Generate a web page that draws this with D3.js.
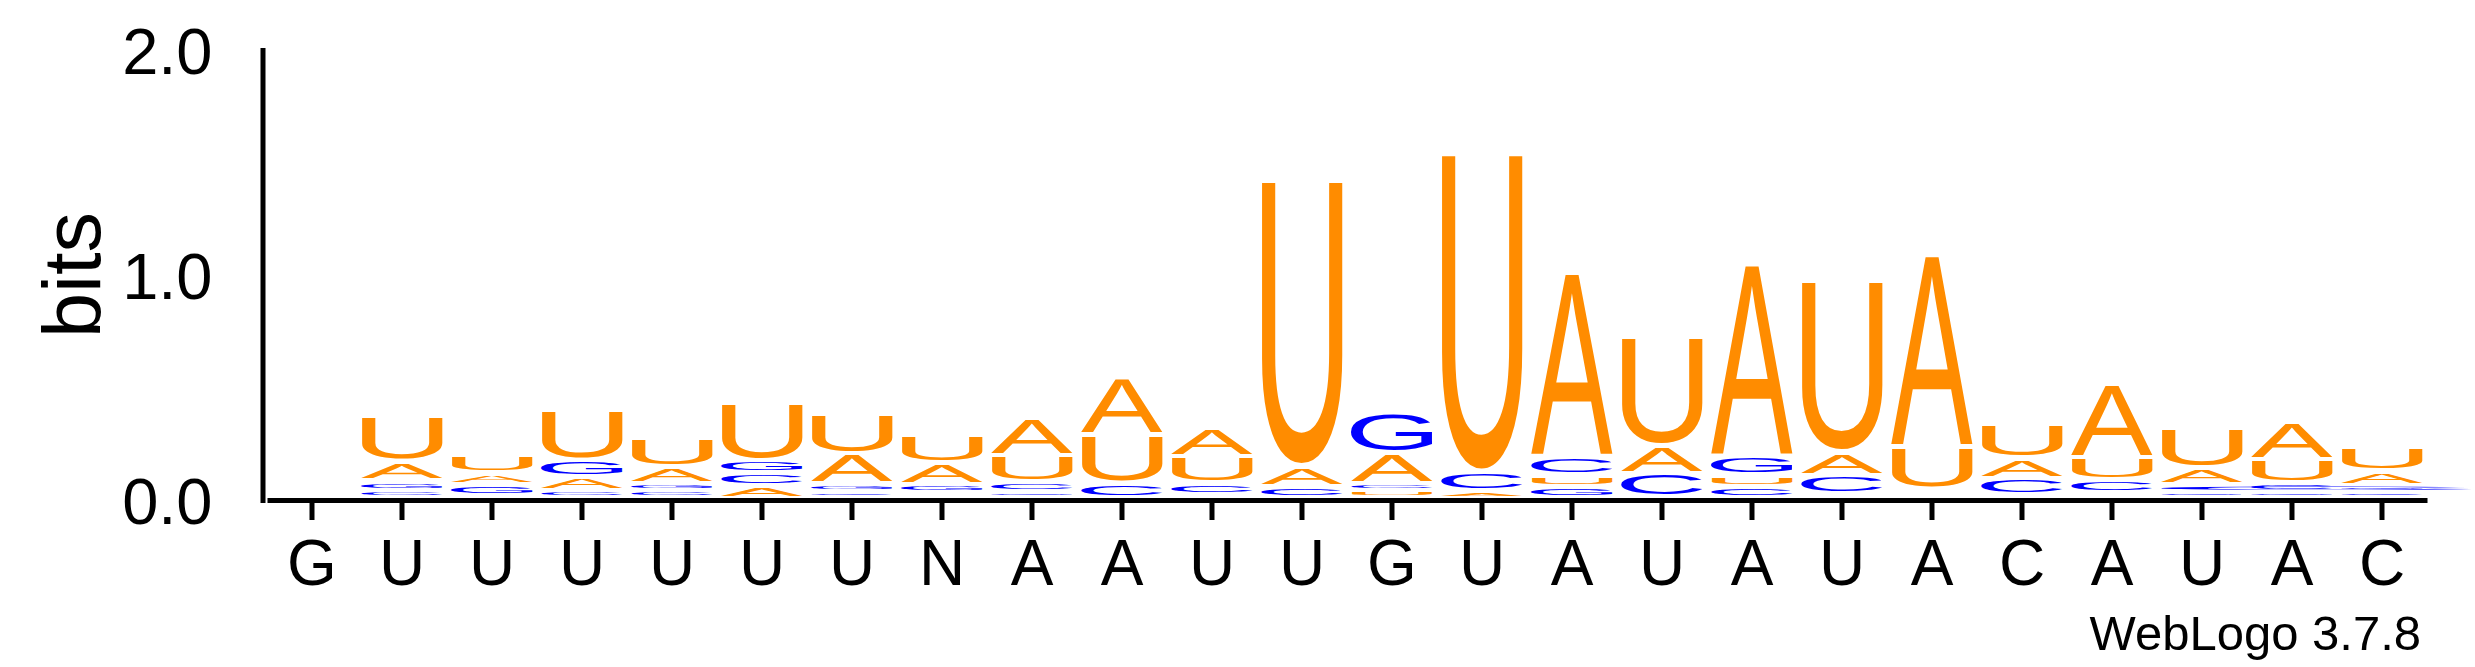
<!DOCTYPE html>
<html><head><meta charset="utf-8">
<script src="https://cdn.jsdelivr.net/npm/d3@7"></script>
<style>html,body{margin:0;padding:0;background:#fff;} svg{display:block;}</style>
</head><body>
<script>
// ---- data ----
const positionLabels = ["G","U","U","U","U","U","U","N","A","A","U","U","G","U","A","U","A","U","A","C","A","U","A","C"];
const bitsA = [0,0.086,0.052,0.059,0.074,0.055,0.133,0.096,0.169,0.253,0.129,0.091,0.133,0.031,0.819,0.122,0.855,0.104,0.855,0.089,0.331,0.071,0.170,0.064];
const bitsC = [0,0.034,0.010,0.034,0.031,0.056,0.030,0.024,0.044,0.062,0.052,0.053,0.034,0.088,0.081,0.107,0.051,0.084,0.020,0.073,0.056,0.037,0.039,0.027];
const bitsG = [0,0.042,0.049,0.076,0.034,0.058,0.034,0.037,0.027,0.002,0.014,0.000,0.182,0.000,0.052,0.004,0.084,0.017,0.019,0.014,0.024,0.025,0.027,0.030];
const bitsU = [0,0.199,0.081,0.225,0.132,0.258,0.175,0.123,0.119,0.218,0.119,1.271,0.031,1.415,0.053,0.483,0.052,0.760,0.190,0.152,0.101,0.180,0.107,0.111];
const majorTicks = [0, 1, 2];
const minorTicks = [0.2,0.4,0.6,0.8,1.2,1.4,1.6,1.8];
const yTitle = "bits";
const footer = "WebLogo 3.7.8";
const letterColors = {A:"#ff8c00", U:"#ff8c00", C:"#0000ff", G:"#0000ff"};

// ---- layout ----
const W = 2475, H = 667;
const FONT = '"Liberation Sans", Arial, Helvetica, sans-serif';
const svg = d3.select("body").append("svg").attr("width", W).attr("height", H);

const y = d3.scaleLinear().domain([0, 2]).range([500, 50]);
const x = d3.scaleBand().domain(d3.range(positionLabels.length))
  .range([267, 2427]).paddingInner(0.09).paddingOuter(0.045);

// glyph metrics
const ctx = document.createElement("canvas").getContext("2d");
const FS = 100;
ctx.font = FS + "px " + FONT;
const metricsCache = {};
function met(ch) {
  if (!metricsCache[ch]) {
    const m = ctx.measureText(ch);
    metricsCache[ch] = {l: m.actualBoundingBoxLeft, r: m.actualBoundingBoxRight,
                        a: m.actualBoundingBoxAscent, d: m.actualBoundingBoxDescent};
  }
  return metricsCache[ch];
}

// stacks
const lift = 2, inset = 2.5;
const stacks = positionLabels.map((lab, i) => {
  const items = [
    {ch:"A", v:bitsA[i]}, {ch:"C", v:bitsC[i]}, {ch:"G", v:bitsG[i]}, {ch:"U", v:bitsU[i]}
  ].sort((a, b) => a.v - b.v);
  let cum = 0;
  items.forEach(it => { it.y0 = cum; cum += it.v; it.y1 = cum; it.col = i; });
  return items;
});
const glyphs = stacks.flat().filter(d => d.v > 0);

const gLogo = svg.append("g");
glyphs.forEach(d => {
  const top = y(d.y1) - lift, bot = y(d.y0) - lift;
  const gh = (bot - top) - 2 * inset;
  if (gh < 0.6) return;
  const bx = x(d.col);
  let bw = x.bandwidth();
  if (d.col === 21 && d.ch === "C") bw = W - bx; // rendering artifact in the reference
  const m = met(d.ch);
  const sx = bw / (m.l + m.r), sy = gh / (m.a + m.d);
  gLogo.append("text")
    .attr("transform", `translate(${bx},${top + inset}) scale(${sx},${sy}) translate(${m.l},${m.a})`)
    .attr("font-family", FONT).attr("font-size", FS)
    .attr("fill", letterColors[d.ch]).text(d.ch);
});

// y axis
const yAxisX = 262.5;
const gy = svg.append("g").attr("transform", `translate(${yAxisX},0)`);
gy.call(d3.axisLeft(y).tickValues(majorTicks).tickSize(42).tickSizeOuter(0)
  .tickPadding(8).tickFormat(d3.format(".1f")));
gy.append("g").call(d3.axisLeft(y).tickValues(minorTicks).tickSize(22).tickSizeOuter(0).tickFormat(""))
  .select(".domain").remove();
gy.selectAll(".tick line").attr("stroke", "#000").attr("stroke-width", 5).attr("x2", 2.5);
gy.select(".domain").attr("stroke", "#000").attr("stroke-width", 5).attr("stroke-linecap", "square");
gy.selectAll(".tick text").attr("font-family", FONT).attr("font-size", 65).attr("fill", "#000")
  .attr("dy", "0.36em");

// x axis
const gx = svg.append("g").attr("transform", `translate(0,${y(0)})`);
gx.call(d3.axisBottom(x).tickSize(20).tickSizeOuter(0).tickPadding(20)
  .tickFormat(i => positionLabels[i]));
gx.select(".domain").attr("stroke", "#000").attr("stroke-width", 5);
gx.selectAll(".tick line").attr("stroke", "#000").attr("stroke-width", 5).attr("y1", 2);
gx.selectAll(".tick text").attr("font-family", FONT).attr("font-size", 64).attr("fill", "#000");

// y title
svg.append("text").attr("transform", `translate(100,275) rotate(-90)`)
  .attr("text-anchor", "middle").attr("font-family", FONT).attr("font-size", 81)
  .attr("fill", "#000").text(yTitle);

// footer
svg.append("text").attr("x", 2421).attr("y", 650).attr("text-anchor", "end")
  .attr("font-family", FONT).attr("font-size", 49).attr("fill", "#000").text(footer);
</script>
</body></html>
